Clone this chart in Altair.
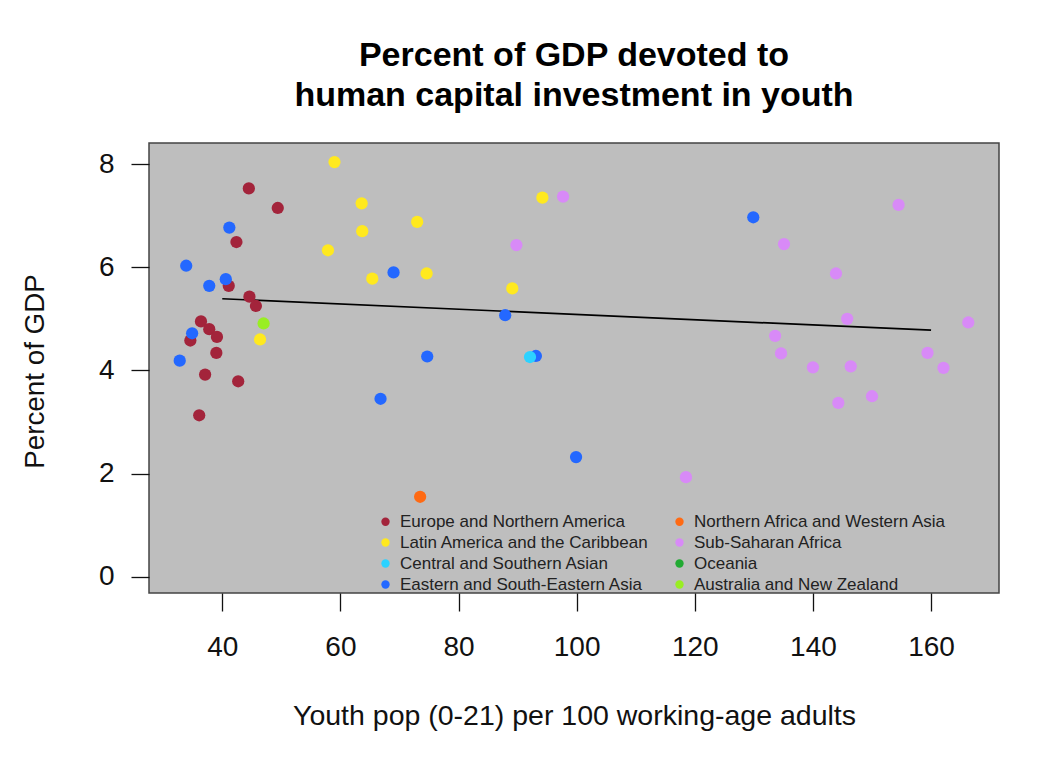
import altair as alt
import pandas as pd

# ---- data ----
regions = [
    "Europe and Northern America",
    "Latin America and the Caribbean",
    "Central and Southern Asian",
    "Eastern and South-Eastern Asia",
    "Northern Africa and Western Asia",
    "Sub-Saharan Africa",
    "Oceania",
    "Australia and New Zealand",
]
region_colors = ["#A3243B", "#FFE91F", "#2CD2FF", "#2468FF",
                 "#FF6A13", "#D88AF7", "#22AA33", "#99EE22"]

europe_x = [44.5, 49.4, 42.4, 41.1, 44.6, 45.7, 36.4, 37.8, 39.1, 34.6, 39.0, 37.1, 42.7, 36.1]
europe_y = [7.53, 7.15, 6.49, 5.64, 5.43, 5.25, 4.95, 4.80, 4.65, 4.58, 4.34, 3.92, 3.79, 3.13]

latin_x = [59.0, 63.6, 73.0, 63.7, 57.9, 74.6, 65.4, 46.4, 94.2, 89.1]
latin_y = [8.04, 7.24, 6.88, 6.70, 6.33, 5.88, 5.78, 4.60, 7.35, 5.59]

eastern_x = [41.2, 33.9, 69.0, 37.8, 40.6, 34.9, 32.8, 74.7, 66.8, 87.9, 93.1, 99.9, 129.9]
eastern_y = [6.77, 6.03, 5.90, 5.64, 5.77, 4.72, 4.19, 4.27, 3.45, 5.07, 4.28, 2.32, 6.97]

central_x = [92.1]
central_y = [4.26]

nafrica_x = [73.5]
nafrica_y = [1.55]

subsah_x = [97.7, 89.8, 154.5, 135.1, 143.9, 145.8, 166.3, 133.6, 134.6, 140.0, 146.4, 159.4, 162.1, 144.3, 150.0, 118.5]
subsah_y = [7.37, 6.43, 7.21, 6.45, 5.88, 5.00, 4.93, 4.67, 4.33, 4.06, 4.08, 4.34, 4.05, 3.37, 3.50, 1.93]

anz_x = [47.0]
anz_y = [4.91]

fit_x = [40, 160]
fit_y = [5.39, 4.78]

x_ticks = [40, 60, 80, 100, 120, 140, 160]
y_ticks = [0, 2, 4, 6, 8]

title_lines = ["Percent of GDP devoted to", "human capital investment in youth"]
x_title = "Youth pop (0-21) per 100 working-age adults"
y_title = "Percent of GDP"

# ---- build table ----
groups = [
    ("Europe and Northern America", europe_x, europe_y),
    ("Latin America and the Caribbean", latin_x, latin_y),
    ("Eastern and South-Eastern Asia", eastern_x, eastern_y),
    ("Central and Southern Asian", central_x, central_y),
    ("Northern Africa and Western Asia", nafrica_x, nafrica_y),
    ("Sub-Saharan Africa", subsah_x, subsah_y),
    ("Australia and New Zealand", anz_x, anz_y),
]
rows = []
for name, xs, ys in groups:
    for xv, yv in zip(xs, ys):
        rows.append({"region": name, "youth": xv, "gdp": yv})
df = pd.DataFrame(rows)
fit_df = pd.DataFrame({"youth": fit_x, "gdp": fit_y})

FONT = "Liberation Sans"

x_scale = alt.Scale(domain=[27.6, 171.5], nice=False, zero=False)
y_scale = alt.Scale(domain=[-0.316, 8.41], nice=False, zero=False)

points = alt.Chart(df).mark_point(filled=True, shape="circle", size=150, opacity=1).encode(
    x=alt.X("youth:Q", scale=x_scale,
            axis=alt.Axis(values=x_ticks, title=x_title, titleY=131,
                          titleBaseline="alphabetic", titleFontWeight="normal",
                          titleFontSize=28.5, labelPadding=22)),
    y=alt.Y("gdp:Q", scale=y_scale,
            axis=alt.Axis(values=y_ticks, title=y_title, titleX=-106, titleY=228,
                          titleAngle=270, titleAlign="center",
                          titleBaseline="alphabetic", titleFontWeight="normal",
                          titleFontSize=27.8, labelPadding=17, labelAngle=0)),
    color=alt.Color("region:N",
                    scale=alt.Scale(domain=regions, range=region_colors),
                    legend=alt.Legend(title=None, orient="none", legendX=228, legendY=370,
                                      columns=2, symbolType="circle", symbolSize=70,
                                      labelFontSize=17, labelFont=FONT, labelColor="#222",
                                      rowPadding=3, columnPadding=22, labelOffset=6,
                                      symbolStrokeWidth=0, labelLimit=400)),
)

line = alt.Chart(fit_df).mark_line(color="black", strokeWidth=1.7).encode(
    x=alt.X("youth:Q", scale=x_scale),
    y=alt.Y("gdp:Q", scale=y_scale),
)

chart = alt.layer(line, points).properties(
    width=850,
    height=450,
    background="white",
    title=alt.TitleParams(text=title_lines, fontSize=34, font=FONT, fontWeight="bold",
                          anchor="middle", color="black", offset=30, lineHeight=40),
    autosize=alt.AutoSizeParams(type="none"),
    padding={"left": 141, "top": 135, "right": 30, "bottom": 140},
).configure_view(
    fill="#BEBEBE", stroke="#444444", strokeWidth=1.5
).configure_axis(
    grid=False, domain=False, ticks=True, tickColor="#111", tickSize=18, tickWidth=1.3,
    labelFont=FONT, labelFontSize=28, labelColor="#111",
    titleFont=FONT, titleFontSize=28, titleColor="#111",
)

chart.save("out.html", embed_options={"renderer": "svg", "actions": False})
